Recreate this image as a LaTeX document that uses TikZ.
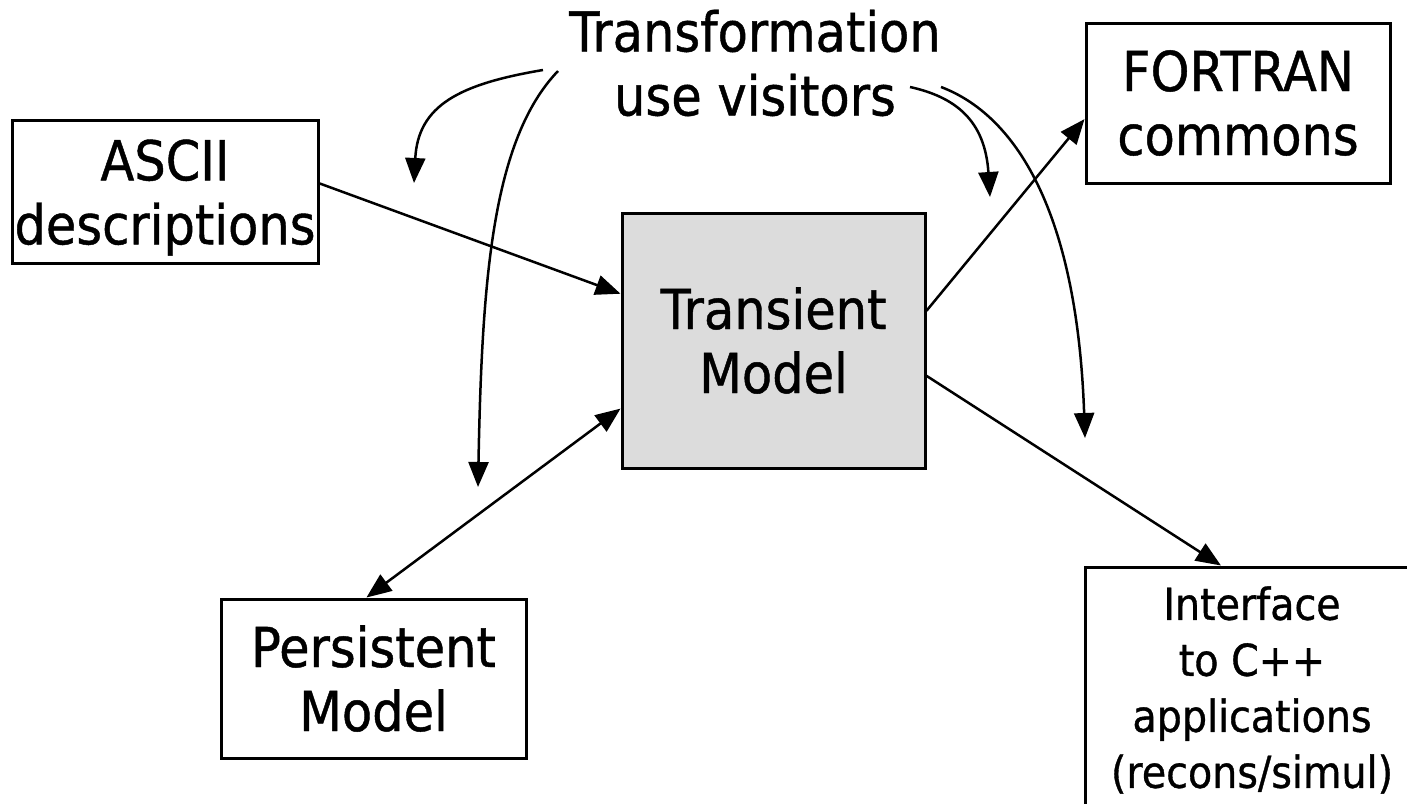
\documentclass[tikz,border=0pt]{standalone}
\usepackage{fontspec}
\setmainfont{DejaVu Sans}[FakeStretch=0.9,FakeBold=0.8]
\usetikzlibrary{arrows.meta}
\newcommand\fbig{\fontsize{55}{64}\selectfont}
\newcommand\fsmall{\fontsize{44}{56}\selectfont}
\definecolor{boxgray}{HTML}{DCDCDC}
\begin{document}
\begin{tikzpicture}[x=1pt,y=-1pt,
  box/.style={draw, line width=3pt, inner sep=0pt, align=center, font=\fbig},
  conn/.style={line width=2.5pt, -{Triangle[length=25pt,width=20pt]}},
  biconn/.style={line width=2.5pt, {Triangle[length=25pt,width=20pt]}-{Triangle[length=25pt,width=20pt]}}]
\useasboundingbox (0,0) rectangle (1407,803);
\begin{scope}
\clip (0,0) rectangle (1407,803);
\node[font=\fbig, align=center, inner sep=0pt] (title) at (755,63) {Transformation\\use visitors};
\node[box, minimum width=306pt, minimum height=143pt] (ascii) at (165,191.5) {\rule{0pt}{53pt}ASCII\\descriptions};
\node[box, minimum width=304pt, minimum height=160pt] (fortran) at (1238,103) {FORTRAN\\commons};
\node[box, fill=boxgray, minimum width=303pt, minimum height=255pt] (trans) at (773.5,340.5) {Transient\\Model};
\node[box, minimum width=305pt, minimum height=159pt] (pers) at (373.5,678.5) {Persistent\\Model};
\node[box, font=\fsmall, minimum width=334pt, minimum height=246pt] (iface) at (1252,690) {Interface\\to C++\\applications\\(recons/simul)};

\draw[conn] (ascii.3) -- (trans.163);
\draw[biconn] (pers.95) -- (trans.204);
\draw[conn] (trans.11) -- (fortran.186);
\draw[conn] (trans.-13) -- (iface.104);

\coordinate (c1s) at (543,70);  \coordinate (c1e) at (414,183);
\coordinate (c2s) at (558,71);  \coordinate (c2e) at (478,487);
\coordinate (c3s) at (910,87);  \coordinate (c3e) at (990,197);
\coordinate (c4s) at (941,87);  \coordinate (c4e) at (1085,438);
\draw[conn] (c1s) .. controls (460,84) and (418,105) .. (c1e);
\draw[conn] (c2s) .. controls (492,140) and (482,280) .. (c2e);
\draw[conn] (c3s) .. controls (955,97) and (985,120) .. (c3e);
\draw[conn] (c4s) .. controls (1015,115) and (1077,210) .. (c4e);
\end{scope}
\end{tikzpicture}
\end{document}
